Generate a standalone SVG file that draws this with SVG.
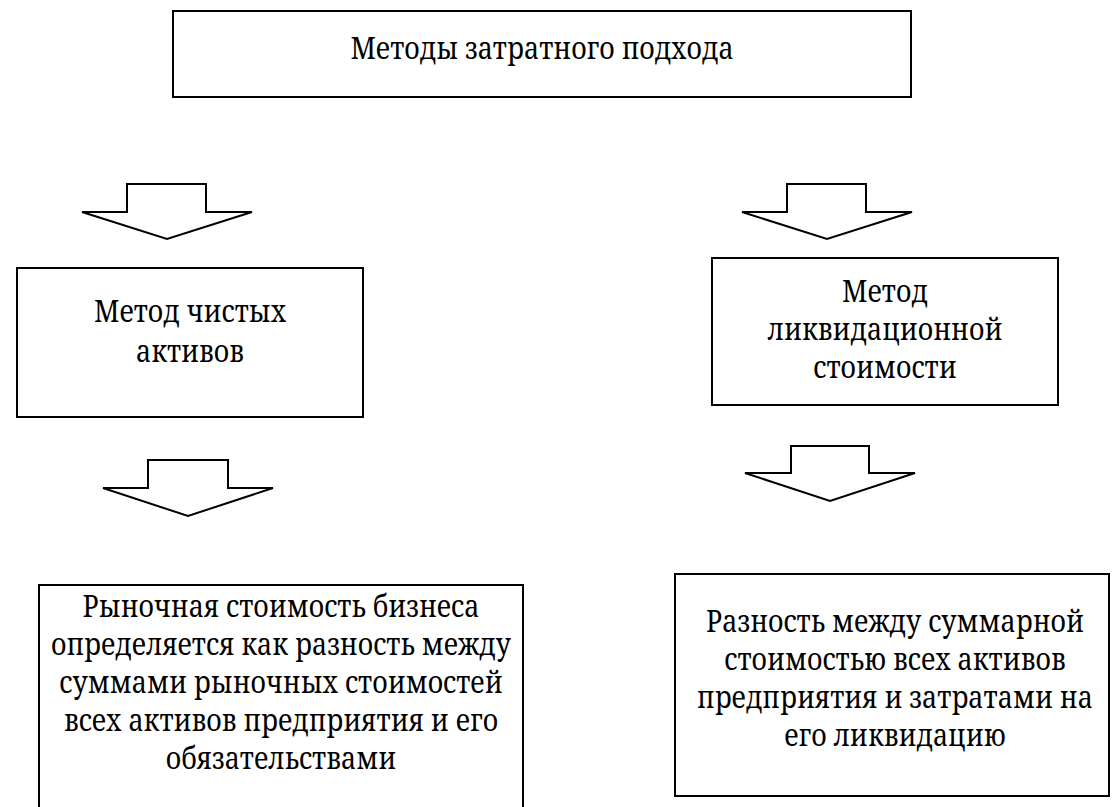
<svg xmlns="http://www.w3.org/2000/svg" width="1112" height="807" viewBox="0 0 1112 807">
<style>
.box{fill:#fff;stroke:#000;stroke-width:2}
.arr{fill:#fff;stroke:#000;stroke-width:2;stroke-linejoin:miter}
text{font-family:"Noto Serif","DejaVu Serif",serif;font-size:30px;fill:#000;text-anchor:middle}
</style>
<rect width="1112" height="807" fill="#fff"/>
<g id="top">
<rect class="box" x="173" y="11" width="738" height="86"/>
<text transform="translate(542 59) scale(0.89 1)">Методы затратного подхода</text>
</g>
<g id="net">
<rect class="box" x="17" y="268" width="346" height="149"/>
<text transform="translate(190 322) scale(0.89 1)">Метод чистых</text>
<text transform="translate(190 362) scale(0.89 1)">активов</text>
</g>
<g id="liq">
<rect class="box" x="712" y="258" width="346" height="147"/>
<text transform="translate(885 302) scale(0.89 1)">Метод</text>
<text transform="translate(885 340) scale(0.89 1)">ликвидационной</text>
<text transform="translate(885 378) scale(0.89 1)">стоимости</text>
</g>
<g id="res1">
<path class="box" d="M39,807 V585 H523 V807"/>
<text transform="translate(281 617) scale(0.89 1)">Рыночная стоимость бизнеса</text>
<text transform="translate(281 655) scale(0.89 1)">определяется как разность между</text>
<text transform="translate(281 693) scale(0.89 1)">суммами рыночных стоимостей</text>
<text transform="translate(281 731) scale(0.89 1)">всех активов предприятия и его</text>
<text transform="translate(281 769) scale(0.89 1)">обязательствами</text>
</g>
<g id="res2">
<rect class="box" x="675" y="574" width="434" height="222"/>
<text transform="translate(895 632) scale(0.89 1)">Разность между суммарной</text>
<text transform="translate(895 670) scale(0.89 1)">стоимостью всех активов</text>
<text transform="translate(895 708) scale(0.89 1)">предприятия и затратами на</text>
<text transform="translate(895 746) scale(0.89 1)">его ликвидацию</text>
</g>
<g id="connectors">
<path class="arr" d="M127,184 H206 V212 H252 L167,239 L82,212 H127 Z"/>
<path class="arr" d="M787,184 H866 V212 H912 L827,239 L742,212 H787 Z"/>
<path class="arr" d="M148,460 H228 V488 H273 L188,516 L103,488 H148 Z"/>
<path class="arr" d="M791,446 H869 V473 H915 L830,501 L745,473 H791 Z"/>
</g>
</svg>
